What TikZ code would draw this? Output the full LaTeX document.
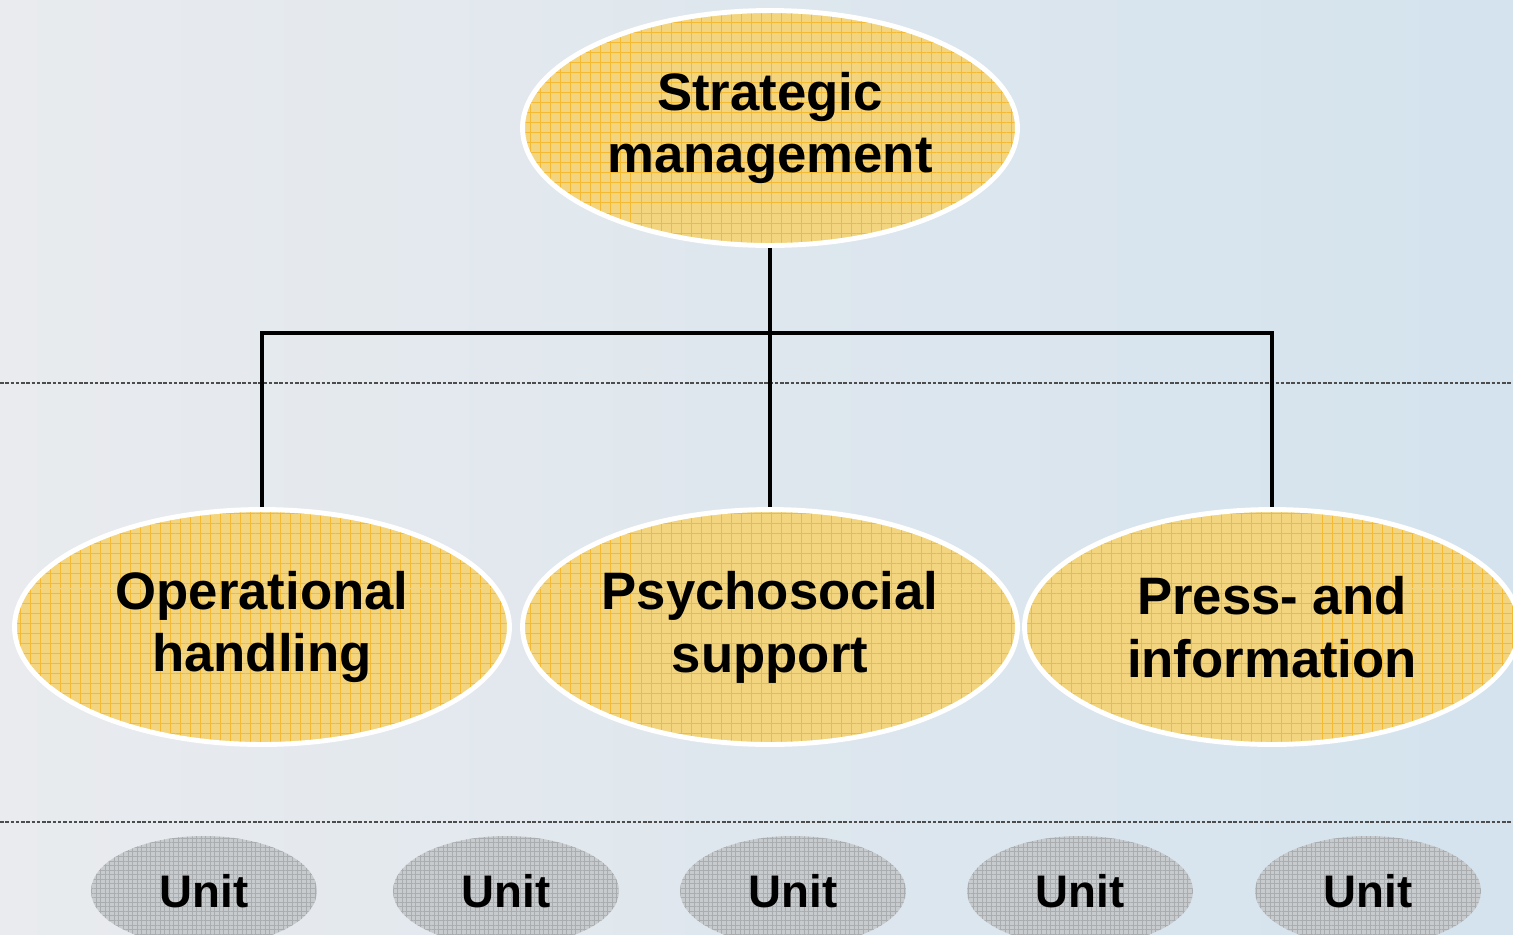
\documentclass[tikz,border=0pt]{standalone}
\usepackage{fontspec}
\setmainfont{Liberation Sans}
\usetikzlibrary{shapes,patterns.meta}
\definecolor{gold}{RGB}{243,213,128}
\definecolor{goldgrid}{RGB}{245,186,50}
\definecolor{unitgray}{RGB}{200,203,206}
\definecolor{unitgrid}{RGB}{170,173,176}
\definecolor{skyleft}{RGB}{233,235,238}
\definecolor{skyright}{RGB}{212,227,238}
\tikzstyle{task}=[ellipse,draw=white,line width=2.8pt,
  preaction={fill=gold},
  preaction={pattern={Hatch[angle=0,distance=5.7pt,line width=0.5pt]},pattern color=goldgrid},
  minimum width=9.9cm,minimum height=4.7cm,inner sep=0pt,align=center,
  font=\fontsize{30}{35.7}\selectfont\bfseries]
\tikzstyle{unit}=[ellipse,
  preaction={fill=unitgray},
  preaction={pattern={Hatch[angle=0,distance=2.6pt,line width=0.4pt]},pattern color=unitgrid},
  minimum width=4.52cm,minimum height=2.2cm,inner sep=0pt,
  font=\fontsize{26}{30}\selectfont\bfseries]
\tikzstyle{edge}=[draw,line width=2.4pt]
\tikzstyle{sepline}=[draw=black!70,line width=0.6pt,dash pattern=on 2pt off 1pt]

\begin{document}
\begin{tikzpicture}[x=0.02cm,y=-0.02cm]
      \useasboundingbox (0,0) rectangle (1513,934);
      \clip (0,0) rectangle (1513,934);
      \shade[left color=skyleft,right color=skyright] (0,0) rectangle (1513,934);
      \draw[sepline] (0,383) -- (1513,383);
      \draw[sepline] (0,822) -- (1513,822);
      \node[task] (strat) at (770,128) {Strategic\\management};
      \node[task] (oper) at (262,627) {Operational\\handling};
      \node[task] (psych) at (770,627) {Psychosocial\\support};
      \node[task] (press) at (1272,627) {Press- and\\information};
      \node[unit] (u1) at (204,891) {Unit};
      \node[unit] (u2) at (506,891) {Unit};
      \node[unit] (u3) at (793,891) {Unit};
      \node[unit] (u4) at (1080,891) {Unit};
      \node[unit] (u5) at (1368,891) {Unit};
      \coordinate (bar) at (770,333);
      \draw[edge] (strat) to (psych);
      \draw[edge] (oper.north) |- (bar) -| (press.north);
    \end{tikzpicture}
\end{document}
